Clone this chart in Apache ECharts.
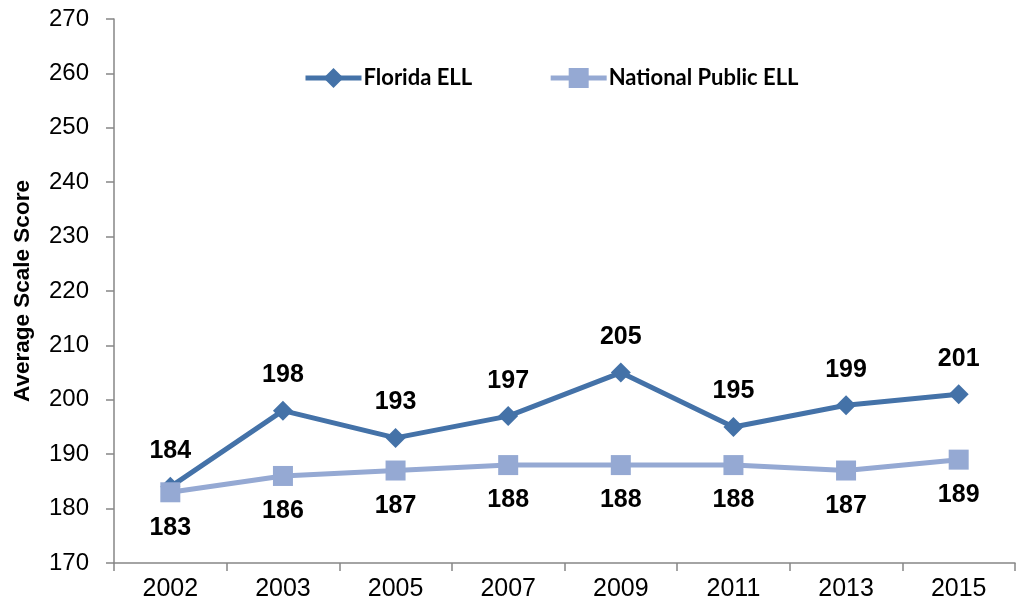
<!DOCTYPE html>
<html>
<head>
<meta charset="utf-8">
<script src="https://cdn.jsdelivr.net/npm/echarts@6/dist/echarts.min.js"></script>
<style>
  html, body { margin: 0; padding: 0; background: #fff; }
  #chart { width: 1019px; height: 609px; }
</style>
</head>
<body>
<div id="chart"></div>
<script>
  // 年份与两条序列
  var years = ['2002', '2003', '2005', '2007', '2009', '2011', '2013', '2015'];
  var floridaEll = [184, 198, 193, 197, 205, 195, 199, 201];
  var nationalEll = [183, 186, 187, 188, 188, 188, 187, 189];

  var myChart = echarts.init(document.getElementById('chart'));

  var labelStyle = {
    show: true,
    fontFamily: 'Liberation Sans, Arial, sans-serif',
    fontWeight: 'bold',
    fontSize: 25,
    color: '#000'
  };

  var option = {
    animation: false,
    grid: { left: 114, right: 4, top: 19, bottom: 46 },
    legend: {
      top: 62,
      left: 298,
      itemWidth: 56,
      itemHeight: 25,
      itemGap: 76,
      lineStyle: { width: 5 },
      textStyle: { fontFamily: 'Lato, Open Sans, sans-serif', fontWeight: 'bold', fontSize: 22, color: '#000', padding: [0, 0, 0, -3] },
      data: ['Florida ELL', 'National Public ELL']
    },
    xAxis: {
      type: 'category',
      data: years,
      boundaryGap: true,
      axisLine: { lineStyle: { color: '#868686', width: 1.5 } },
      axisTick: { show: true, length: 8, lineStyle: { color: '#868686', width: 1.5 } },
      axisLabel: { fontFamily: 'Liberation Sans, Arial, sans-serif', fontSize: 25, color: '#000', margin: 14 }
    },
    yAxis: {
      type: 'value',
      min: 170,
      max: 270,
      interval: 10,
      name: 'Average Scale Score',
      nameLocation: 'middle',
      nameGap: 80,
      nameTextStyle: { fontFamily: 'Liberation Sans, Arial, sans-serif', fontWeight: 'bold', fontSize: 22.5, color: '#000' },
      axisLine: { show: true, lineStyle: { color: '#868686', width: 1.5 } },
      axisTick: { show: true, length: 8, lineStyle: { color: '#868686', width: 1.5 } },
      splitLine: { show: false },
      axisLabel: { fontFamily: 'Liberation Sans, Arial, sans-serif', fontSize: 24, color: '#000', margin: 25 }
    },
    series: [
      {
        name: 'Florida ELL',
        type: 'line',
        data: floridaEll,
        symbol: 'diamond',
        symbolSize: 20,
        z: 2,
        itemStyle: { color: '#4472A8' },
        lineStyle: { color: '#4472A8', width: 5 },
        label: Object.assign({ position: 'top', distance: 13 }, labelStyle)
      },
      {
        name: 'National Public ELL',
        type: 'line',
        data: nationalEll,
        symbol: 'rect',
        symbolSize: 20,
        z: 3,
        itemStyle: { color: '#95A9D3' },
        lineStyle: { color: '#95A9D3', width: 5 },
        label: Object.assign({ position: 'bottom', distance: 13 }, labelStyle)
      }
    ]
  };

  myChart.setOption(option, true);
</script>
</body>
</html>
